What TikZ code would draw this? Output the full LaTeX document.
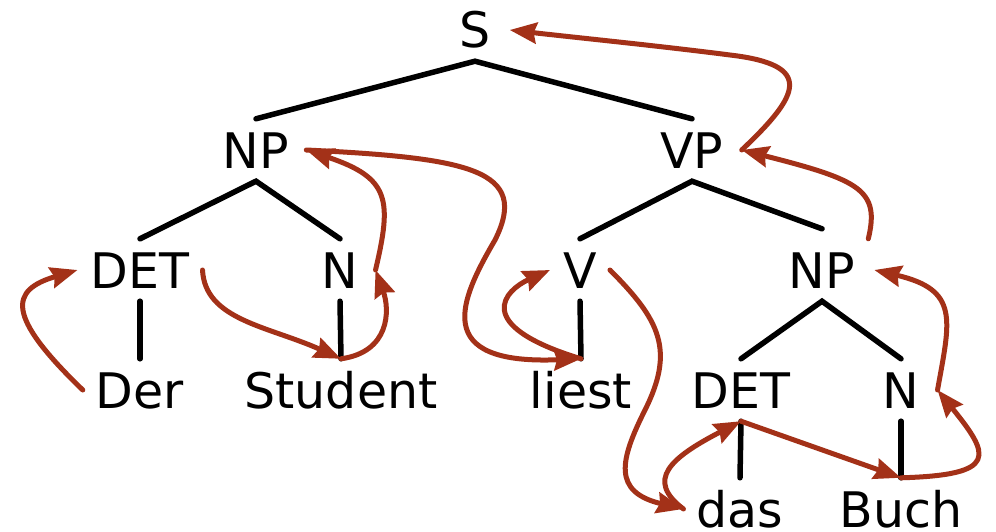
\documentclass[tikz,border=0pt]{standalone}
\usepackage{fontspec}
\setmainfont{DejaVu Sans}
\usetikzlibrary{arrows.meta}
\definecolor{movered}{RGB}{163,49,24}

\begin{document}
\begin{tikzpicture}[x=1pt, y=-1pt,
    cat/.style={text height=36pt, text depth=0pt, inner sep=13pt, font=\fontsize{49}{58}\selectfont},
    branch/.style={line width=5.5pt, line cap=round, black},
    move/.style={-{Stealth[length=27pt,width=21pt,inset=3pt]}, line width=5pt, line cap=round, movered}]

        \useasboundingbox (0,0) rectangle (996,532);

        % Categories and words
        \node[cat] (s) at (475,30) {S};
        \node[cat] (npL) at (256,150) {NP};
        \node[cat] (vp) at (692,150) {VP};
        \node[cat] (detL) at (140,270) {DET};
        \node[cat] (nL) at (340,270) {N};
        \node[cat] (v) at (580,270) {V};
        \node[cat] (npR) at (822,270) {NP};
        \node[cat] (der) at (140,390) {Der};
        \node[cat] (student) at (341,390) {Student};
        \node[cat] (liest) at (581,390) {liest};
        \node[cat] (detR) at (741,390) {DET};
        \node[cat] (nR) at (901,390) {N};
        \node[cat] (das) at (740,509) {das};
        \node[cat] (buch) at (901,509) {Buch};

        % Tree branches
        \draw[branch] (npL.north) -- (s.south) -- (vp.north);
        \draw[branch] (detL.north) -- (npL.south) -- (nL.north);
        \draw[branch] (v.north) -- (vp.south) -- ([yshift=10pt]npR.north);
        \draw[branch] (detR.north) -- (npR.south) -- (nR.north);
        \draw[branch] (detL.south) -- (der.north);
        \draw[branch] (nL.south) -- (student.north);
        \draw[branch] (v.south) -- (liest.north);
        \draw[branch] (detR.south) -- (das.north);
        \draw[branch] (nR.south) -- (buch.north);

        % Movement arrows, left part
        \draw[move] (der.west) .. controls (5,315) and (10,290) .. (detL.west);
        \draw[move] (detL.east) .. controls (205,320) and (268,326) .. (student.north);
        \draw[move] (student.north) .. controls (390,352) and (390,310) .. ([xshift=4pt]nL.east);
        \draw[move] ([xshift=4pt]nL.east) .. controls (392,200) and (390,178) .. ([xshift=4pt]npL.east);
        \draw[move] ([xshift=4pt]npL.east) .. controls (470,158) and (530,170) .. (495,240)
            .. controls (460,300) and (430,365) .. (liest.north);

        % Movement arrows, right part
        \draw[move] (liest.north) .. controls (470,325) and (505,290) .. (v.west);
        \draw[move] (v.east) .. controls (660,320) and (675,350) .. (645,410)
            .. controls (620,460) and (612,492) .. (das.west);
        \draw[move] (das.west) .. controls (645,480) and (670,458) .. (detR.south);
        \draw[move] (detR.south) -- (buch.north);
        \draw[move] (buch.north) .. controls (1000,475) and (990,455) .. ([xshift=5pt]nR.east);
        \draw[move] ([xshift=5pt]nR.east) .. controls (950,320) and (960,290) .. ([xshift=6pt]npR.east);
        \draw[move] (npR.north east) .. controls (880,190) and (860,180) .. ([xshift=5pt]vp.east);
        \draw[move] ([xshift=5pt]vp.east) .. controls (800,95) and (815,65) .. (730,55)
            .. controls (660,46) and (580,38) .. ([xshift=6pt]s.east);

\end{tikzpicture}
\end{document}
